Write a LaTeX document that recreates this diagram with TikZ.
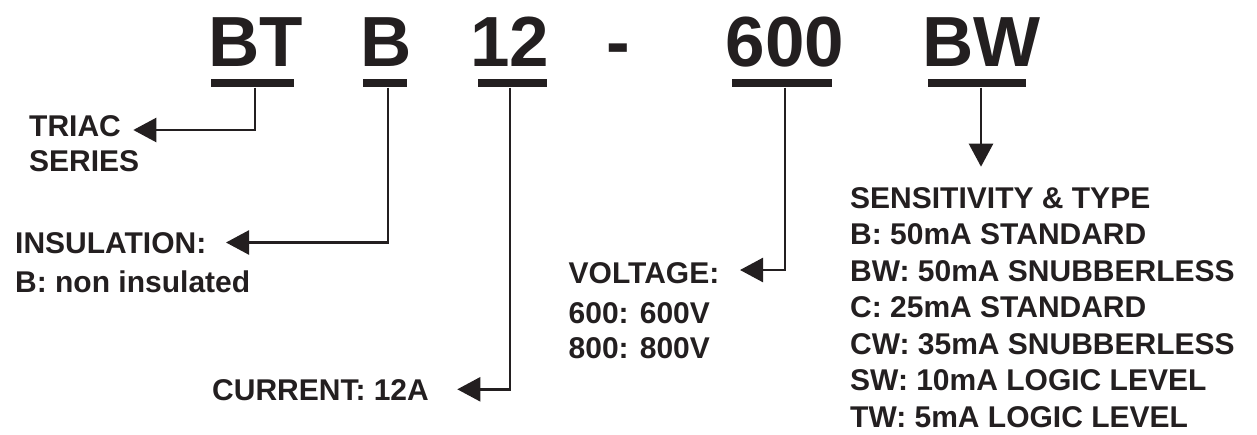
\documentclass[tikz,border=0pt]{standalone}
\usepackage{fontspec}
\setmainfont{Liberation Sans}
\usetikzlibrary{arrows.meta}
\definecolor{ink}{HTML}{231F20}
\begin{document}
\begin{tikzpicture}[x=1pt,y=-1pt,
  big/.style={font=\fontsize{71}{84}\selectfont\bfseries, text=ink, inner sep=0pt, anchor=base},
  lbl/.style={font=\fontsize{30}{36}\selectfont\bfseries, text=ink, inner sep=0pt, anchor=base west},
  bar/.style={fill=ink, inner sep=0pt, minimum height=8.5pt},
  conn/.style={draw=ink, line width=2.5pt, -{Triangle[length=23pt,width=24pt]}}]
\useasboundingbox (0,0) rectangle (1257,434);

% part number
\node[big] (pBT) at (255.8,66.7) {BT};
\node[big] (pB)  at (386.5,66.7) {B};
\node[big] (p12) at (509.5,66.7) {12};
\node[big] (pdash) at (618,66.7) {-};
\node[big] (p600) at (785,66.7) {600};
\node[big] (pBW) at (981.5,66.7) {BW};

% bars
\node[bar, minimum width=83.3pt] (barBT) at (252.35,83.15) {};
\node[bar, minimum width=44.3pt] (barB) at (384.85,83.15) {};
\node[bar, minimum width=69pt] (bar12) at (512.2,83.15) {};
\node[bar, minimum width=100.6pt] (bar600) at (782,83.15) {};
\node[bar, minimum width=98.3pt] (barBW) at (976.85,83.15) {};

% labels
\node[lbl] (triac) at (29,136) {TRIAC};
\node[lbl] (series) at (29,171.7) {SERIES};
\node[lbl] (insul) at (15,253.3) {INSULATION:};
\node[lbl] (insulB) at (15,292.7) {B: non insulated};
\node[lbl] (current) at (212,400) {CURRENT: 12A};
\node[lbl] (volt) at (568.5,283.3) {VOLTAGE:};
\node[lbl] (v600) at (568.5,323.3) {600: 600V};
\node[lbl] (v800) at (568.5,358.3) {800: 800V};
\node[lbl] (sens) at (850,208) {SENSITIVITY \& TYPE};
\node[lbl] (sB)  at (850,244.5) {B: 50mA STANDARD};
\node[lbl] (sBW) at (850,281) {BW: 50mA SNUBBERLESS};
\node[lbl] (sC)  at (850,317.5) {C: 25mA STANDARD};
\node[lbl] (sCW) at (850,354) {CW: 35mA SNUBBERLESS};
\node[lbl] (sSW) at (850,390.5) {SW: 10mA LOGIC LEVEL};
\node[lbl] (sTW) at (850,427) {TW: 5mA LOGIC LEVEL};

% corners and tips
\coordinate (cBT) at (255,130);   \coordinate (tBT) at (133.3,130);
\coordinate (cB) at (388,242.5);  \coordinate (tB) at (226,242.5);
\coordinate (c12) at (510,389.3); \coordinate (t12) at (457.3,389.3);
\coordinate (c600) at (785,270);  \coordinate (t600) at (740,270);
\coordinate (tBW) at (981,166.7);

% connectors
\draw[conn] (barBT.south -| cBT) -- (cBT) -- (tBT);
\draw[conn] (barB.south -| cB) -- (cB) -- (tB);
\draw[conn] (bar12.south -| c12) -- (c12) -- (t12);
\draw[conn] (bar600.south -| c600) -- (c600) -- (t600);
\draw[conn] (barBW.south -| tBW) -- (tBW);
\end{tikzpicture}
\end{document}
